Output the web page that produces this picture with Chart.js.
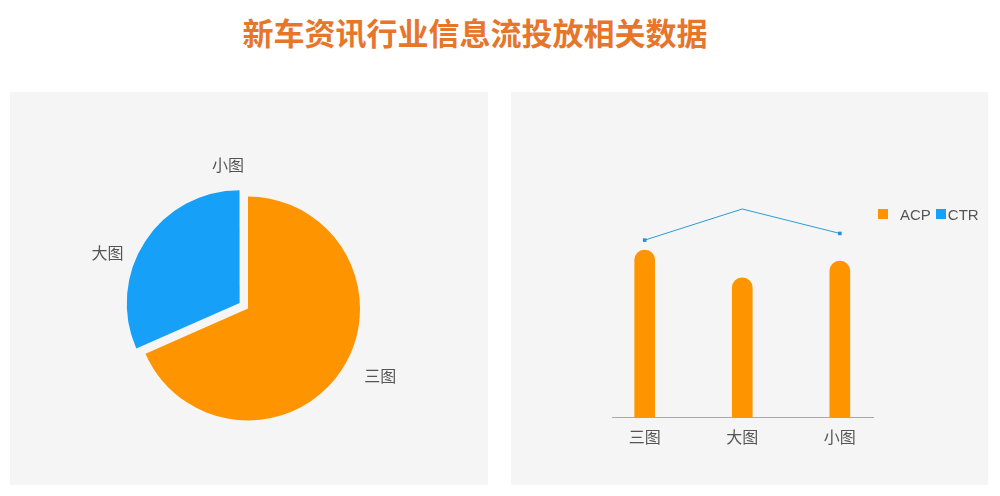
<!DOCTYPE html>
<html>
<head>
<meta charset="utf-8">
<script src="https://cdn.jsdelivr.net/npm/chart.js@4.4.1/dist/chart.umd.min.js"></script>
<style>
html, body { margin: 0; padding: 0; background: #fff; width: 1000px; height: 496px; overflow: hidden; font-family: "Noto Sans CJK SC", sans-serif; }
#title { position: absolute; left: 0; top: 14px; width: 950px; text-align: center; font-size: 31px; line-height: 36px; font-weight: bold; color: #e6762c; }
.panel { position: absolute; top: 92px; height: 393px; background: #f5f5f5; }
#leftPanel { left: 10px; width: 478px; }
#rightPanel { left: 511px; width: 477px; }
#legend { position: absolute; left: 367px; top: 114px; height: 16px; display: flex; align-items: center; font-family: "Liberation Sans", sans-serif; font-size: 15px; color: #555; }
#legend .sw { display: inline-block; width: 10px; height: 10px; }
#legend .item { display: flex; align-items: center; margin-right: 5px; }
</style>
</head>
<body>
<div id="title">新车资讯行业信息流投放相关数据</div>
<div class="panel" id="leftPanel"><canvas id="pieChart"></canvas></div>
<div class="panel" id="rightPanel"><canvas id="barChart"></canvas><div id="legend"></div></div>
<script>
// pie: share of each creative type
const pieLabels = ['三图', '大图', '小图'];
const pieValues = [68.4, 31.6, 0];

// bars + line: ACP / CTR by creative type
const barCategories = ['三图', '大图', '小图'];
const acpValues = [0.803, 0.670, 0.750];
const ctrValues = [8.51, 10.0, 8.83];

const ORANGE = '#fe9400';
const BLUE = '#17a0f7';

Chart.defaults.font.family = '"Noto Sans CJK SC", sans-serif';
Chart.defaults.animation = false;

// outside labels for the pie, placed on each slice's middle angle
const labelNudge = [-6, 23, -10];
const pieLabelPlugin = {
    id: 'pieLabels',
    afterDatasetsDraw(chart) {
        const ctx = chart.ctx;
        const meta = chart.getDatasetMeta(0);
        ctx.save();
        ctx.font = '16px "Noto Sans CJK SC"';
        ctx.fillStyle = '#555';
        ctx.textBaseline = 'middle';
        meta.data.forEach((arc, i) => {
            const p = arc.getProps(['x', 'y', 'startAngle', 'endAngle', 'outerRadius'], true);
            const mid = (p.startAngle + p.endAngle) / 2;
            const shift = (arc.options.offset || 0) / 4;
            const dist = p.outerRadius + shift + 22;
            const cos = Math.cos(mid);
            const onRight = cos > 0.001;
            const x = p.x + cos * dist + (onRight ? 4 : -4);
            const y = p.y + Math.sin(mid) * dist + labelNudge[i];
            ctx.textAlign = onRight ? 'left' : 'right';
            ctx.fillText(chart.data.labels[i], x, y);
        });
        ctx.restore();
    }
};

new Chart(document.getElementById('pieChart'), {
    type: 'pie',
    data: {
        labels: pieLabels,
        datasets: [{
            data: pieValues,
            backgroundColor: [ORANGE, BLUE, '#8fd14f'],
            borderWidth: 0,
            offset: [0, 40, 0],
            radius: 112
        }]
    },
    options: {
        responsive: true,
        maintainAspectRatio: false,
        layout: { padding: { top: 40, right: 2, bottom: 0, left: 0 } },
        plugins: {
            legend: { display: false },
            tooltip: { enabled: false }
        }
    },
    plugins: [pieLabelPlugin]
});

const barChart = new Chart(document.getElementById('barChart'), {
    data: {
        datasets: [
            {
                type: 'bar',
                label: 'ACP',
                data: acpValues.map((v, i) => ({ x: i, y: v })),
                backgroundColor: ORANGE,
                barThickness: 20,
                borderRadius: 10,
                borderSkipped: 'start',
                yAxisID: 'y',
                order: 2
            },
            {
                type: 'line',
                label: 'CTR',
                data: ctrValues.map((v, i) => ({ x: i, y: v })),
                borderColor: '#2b9bd6',
                backgroundColor: '#1a8fe0',
                borderWidth: 1,
                pointStyle: 'rect',
                pointRadius: [2.5, 0, 2.5],
                pointBorderWidth: 0,
                tension: 0,
                clip: false,
                yAxisID: 'y1',
                order: 1
            }
        ]
    },
    options: {
        responsive: true,
        maintainAspectRatio: false,
        layout: { padding: { top: 117, right: 115, bottom: 28, left: 101 } },
        scales: {
            x: {
                type: 'linear',
                bounds: 'data',
                offset: false,
                min: -0.335,
                max: 2.34,
                grid: { display: false, drawTicks: false, offset: false },
                border: { display: true, color: '#aaa', width: 1 },
                afterBuildTicks: scale => {
                    scale.ticks = barCategories.map((c, i) => ({ value: i }));
                },
                ticks: {
                    padding: 10,
                    color: '#555',
                    font: { size: 16 },
                    callback: value => barCategories[value]
                }
            },
            y: { display: false, min: 0, max: 1 },
            y1: { display: false, min: 0, max: 10 }
        },
        plugins: {
            legend: { display: false },
            tooltip: { enabled: false }
        }
    }
});

// horizontal legend at the top right of the plot
const legendGap = [12, 2];
const legendBox = document.getElementById('legend');
barChart.data.datasets.forEach((ds, i) => {
    const item = document.createElement('span');
    item.className = 'item';
    const sw = document.createElement('span');
    sw.className = 'sw';
    sw.style.background = ds.type === 'bar' ? ds.backgroundColor : BLUE;
    sw.style.marginRight = legendGap[i] + 'px';
    item.appendChild(sw);
    item.appendChild(document.createTextNode(ds.label));
    legendBox.appendChild(item);
});
</script>
</body>
</html>
